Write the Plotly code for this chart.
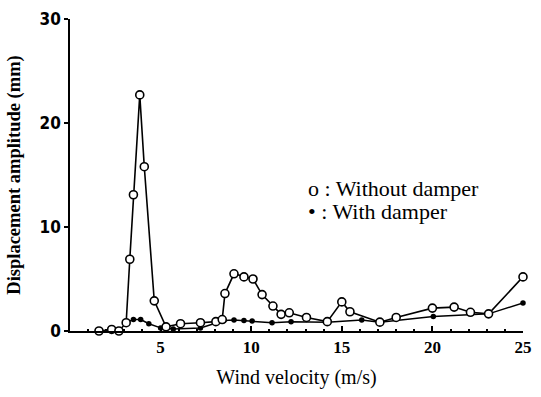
import plotly.graph_objects as go

# Without damper (open circles)
wind_without = [1.6, 2.3, 2.7, 3.1, 3.3, 3.5, 3.85, 4.1, 4.65, 5.3, 6.1, 7.2, 8.05, 8.4,
                8.55, 9.05, 9.6, 10.1, 10.6, 11.2, 11.65, 12.1, 13.05, 14.2, 15.0, 15.45,
                17.1, 18.0, 20.0, 21.2, 22.1, 23.1, 25.0]
amp_without = [0.0, 0.15, 0.0, 0.8, 6.9, 13.1, 22.7, 15.8, 2.9, 0.4, 0.7, 0.8, 0.9, 1.1,
               3.6, 5.5, 5.2, 5.0, 3.5, 2.4, 1.6, 1.75, 1.3, 0.9, 2.8, 1.85,
               0.85, 1.3, 2.2, 2.3, 1.8, 1.65, 5.2]

# With damper (solid dots)
wind_with = [3.1, 3.5, 3.9, 4.35, 5.0, 5.7, 7.2, 8.5, 9.05, 9.6, 10.05, 11.15, 12.2,
             14.2, 16.1, 17.1, 20.05, 23.1, 25.0]
amp_with = [0.8, 1.1, 1.1, 0.7, 0.3, 0.2, 0.3, 1.0, 1.05, 1.0, 0.95, 0.8, 0.9,
            0.85, 1.05, 0.85, 1.4, 1.65, 2.7]

x_ticks = [5, 10, 15, 20, 25]
y_ticks = [0, 10, 20, 30]

legend_labels = ["o : Without damper", "\u2022 : With damper"]

FONT = "Liberation Serif"

fig = go.Figure()
fig.add_trace(go.Scatter(
    x=wind_with, y=amp_with, mode="lines+markers",
    line=dict(color="black", width=1.5),
    marker=dict(symbol="circle", size=5.5, color="black"),
    cliponaxis=False, showlegend=False))
fig.add_trace(go.Scatter(
    x=wind_without, y=amp_without, mode="lines+markers",
    line=dict(color="black", width=1.6),
    marker=dict(symbol="circle", size=8, color="white",
                line=dict(color="black", width=1.6)),
    cliponaxis=False, showlegend=False))

fig.update_layout(
    width=541, height=397,
    margin=dict(l=70, r=9, t=16, b=66),
    paper_bgcolor="white", plot_bgcolor="white",
    font=dict(family=FONT, color="black"),
    xaxis=dict(
        range=[0, 25], tickvals=x_ticks, ticktext=[str(v) for v in x_ticks],
        showline=True, linecolor="black", linewidth=1.5,
        ticks="inside", ticklen=5, tickwidth=1.5, tickcolor="black",
        minor=dict(ticks="inside", ticklen=2, dtick=1, tickcolor="black"),
        showgrid=False, zeroline=False,
        tickfont=dict(family=FONT, size=17, weight="bold"),
        title=dict(text="Wind velocity (m/s)", font=dict(family=FONT, size=20), standoff=14),
    ),
    yaxis=dict(
        range=[0, 30], tickvals=y_ticks, ticktext=[str(v) for v in y_ticks],
        showline=True, linecolor="black", linewidth=1.5,
        ticks="outside", ticklen=4, tickwidth=1.5, tickcolor="black",
        showgrid=False, zeroline=False,
        tickfont=dict(family="DejaVu Sans Condensed, Liberation Sans Narrow, Liberation Sans", size=17, weight="bold"),
        title=dict(text="Displacement amplitude (mm)", font=dict(family=FONT, size=18.5, weight="bold"), standoff=14),
    ),
)

for i, (label, yp) in enumerate(zip(legend_labels, [0.457, 0.384])):
    fig.add_annotation(
        text=label, xref="paper", yref="paper", x=0.52, y=yp,
        xanchor="left", yanchor="middle", showarrow=False,
        font=dict(family=FONT, size=22, color="black"))

fig.write_html("out.html")
